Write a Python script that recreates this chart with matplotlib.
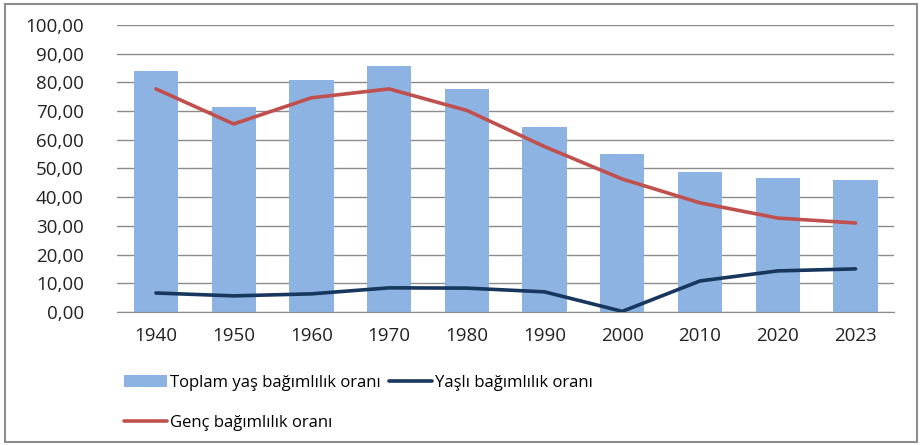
import numpy as np
import matplotlib.pyplot as plt
from matplotlib.patches import Rectangle

plt.rcParams['font.family'] = ['Open Sans', 'DejaVu Sans']

years = ["1940", "1950", "1960", "1970", "1980", "1990", "2000", "2010", "2020", "2023"]
toplam = [84.0, 71.4, 80.9, 85.7, 77.7, 64.5, 55.1, 48.8, 46.6, 46.0]
genc = [77.7, 65.5, 74.6, 77.7, 70.2, 57.6, 46.3, 38.0, 32.7, 31.0]
yasli = [6.6, 5.6, 6.3, 8.4, 8.3, 7.0, 0.2, 10.8, 14.3, 15.0]

fig = plt.figure(figsize=(9.22, 4.45), dpi=100)
ax = fig.add_axes([0.127, 0.299, 0.843, 0.645])

x = np.arange(len(years))
bars = ax.bar(x, toplam, width=0.57, color="#8DB3E2", zorder=2,
              label="Toplam yaş bağımlılık oranı")
l_genc, = ax.plot(x, genc, color="#C0504D", lw=2.6, zorder=3,
                  solid_capstyle="round", label="Genç bağımlılık oranı")
l_yasli, = ax.plot(x, yasli, color="#17375E", lw=2.6, zorder=3,
                   solid_capstyle="round", label="Yaşlı bağımlılık oranı")

ax.set_xlim(-0.5, len(years) - 0.5)
ax.set_ylim(0, 100)
ax.set_yticks(np.arange(0, 101, 10))
ax.set_yticklabels([f"{v},00" for v in range(0, 101, 10)])
ax.set_xticks(x)
ax.set_xticklabels(years)
ax.tick_params(axis="both", length=0, labelsize=13.5, colors="#222222")
ax.tick_params(axis="x", pad=11)
ax.tick_params(axis="y", pad=24)
ax.grid(axis="y", color="#8c8c8c", lw=1, zorder=1)
for s in ["left", "right", "top"]:
    ax.spines[s].set_visible(False)
ax.spines["bottom"].set_color("#8c8c8c")

fig.legend(handles=[bars, l_genc, l_yasli], loc="upper left",
           bbox_to_anchor=(0.127, 0.172), ncol=2, frameon=False,
           fontsize=12, handlelength=2.6, handletextpad=0.15,
           columnspacing=0.5, labelspacing=1.45, borderaxespad=0)

fig.patches.append(Rectangle((0.005, 0.006), 0.99, 0.986, transform=fig.transFigure,
                             fill=False, edgecolor="#8c8c8c", lw=1.5))

fig.savefig("out.png", dpi=100)
